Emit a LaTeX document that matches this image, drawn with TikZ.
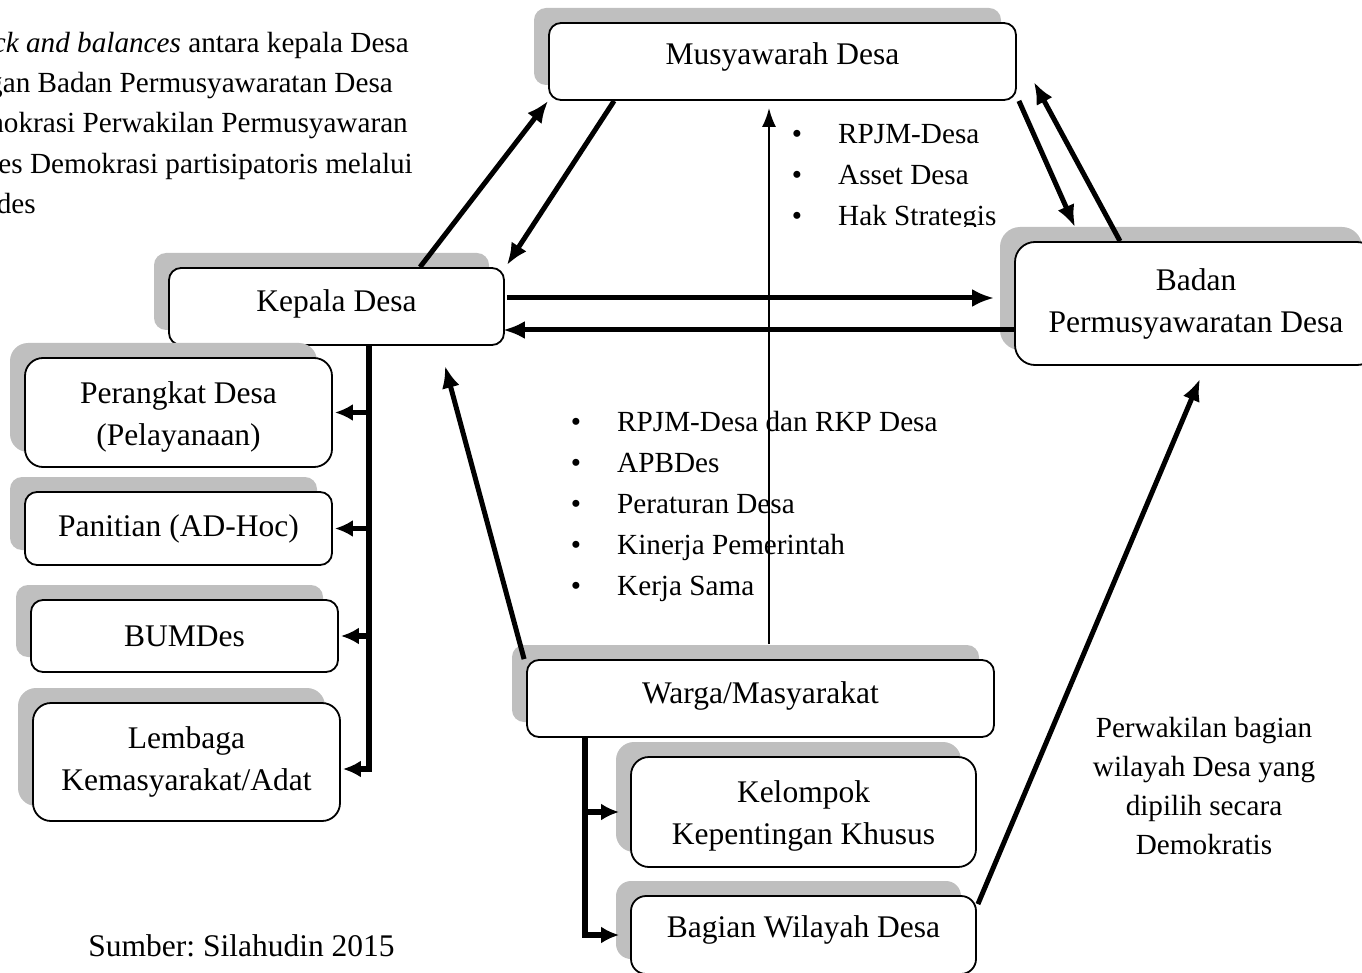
\documentclass[tikz,border=0pt]{standalone}
\usepackage{fontspec}
\setmainfont{Liberation Serif}
\usepackage{xcolor}
\usepackage{tikz}
\usetikzlibrary{arrows.meta, calc, shadows}

\definecolor{shadowgray}{RGB}{191,191,191}
\frenchspacing

\begin{document}
\begin{tikzpicture}[
      x=1pt, y=-1pt,
      font=\fontsize{31.5}{42}\selectfont,
      box/.style={
        rectangle,
        draw,
        line width=1.8pt,
        rounded corners=12pt,
        fill=white,
        align=center,
        inner sep=4pt,
        drop shadow={shadow xshift=-15pt, shadow yshift=15pt,
          fill=shadowgray, opacity=1}
      },
      link/.style={line width=5pt, -{Latex[length=22pt, width=18pt]}},
      branch/.style={line width=5.5pt, -{Latex[length=18pt, width=17pt]}},
      thinlink/.style={line width=2.2pt, -{Latex[length=19pt, width=14pt]}},
      small/.style={font=\fontsize{29.2}{40}\selectfont},
      item/.style={small, anchor=base west, inner sep=0pt},
      dot/.style={small, anchor=base, inner sep=0pt},
      note/.style={small, anchor=base east, inner sep=0pt}
    ]
    \useasboundingbox (0,0) rectangle (1362,973);

    % boxes
    \node[box, minimum width=467pt, minimum height=77pt, text depth=16pt] (mus) at (782.5,61.5) {Musyawarah Desa};
    \node[box, minimum width=335pt, minimum height=77pt, text depth=12pt] (kep) at (336.5,306.5) {Kepala Desa};
    \node[box, minimum width=362pt, minimum height=123pt, rounded corners=20pt] (bpd) at (1196,303.5) {Badan\\Permusyawaratan Desa};
    \node[box, minimum width=307pt, minimum height=109pt, rounded corners=18pt] (per) at (178.5,412.5) {\rule{0pt}{30pt}Perangkat Desa\\(Pelayanaan)};
    \node[box, minimum width=307pt, minimum height=73pt] (pan) at (178.5,528.5) {Panitian (AD-Hoc)};
    \node[box, minimum width=307pt, minimum height=72pt] (bum) at (184.5,636) {BUMDes};
    \node[box, minimum width=307pt, minimum height=118pt, rounded corners=18pt] (lem) at (186.5,762) {Lembaga\\Kemasyarakat/Adat};
    \node[box, minimum width=467pt, minimum height=77pt, text depth=12pt] (war) at (760.5,698.5) {Warga/Masyarakat};
    \node[box, minimum width=345pt, minimum height=110pt, rounded corners=18pt] (kel) at (803.5,812) {\rule{0pt}{29pt}Kelompok\\Kepentingan Khusus};
    \node[box, minimum width=345pt, minimum height=78pt, rounded corners=15pt, text depth=16pt] (bag) at (803.5,935) {Bagian Wilayah Desa};

    % texts
    \node[note] (cb1) at (409,53) {\textit{ck and balances} antara kepala Desa};
    \node[note] (cb2) at (393,93) {gan Badan Permusyawaratan Desa};
    \node[note] (cb3) at (408,133) {nokrasi Perwakilan Permusyawaran};
    \node[note] (cb4) at (413,174) {es Demokrasi partisipatoris melalui};
    \node[note] (cb5) at (36,214) {des};

    \begin{scope}
      \clip (780,100) rectangle (1010,227);
      \foreach \t [count=\i] in {RPJM-Desa, Asset Desa, Hak Strategis} {
        \node[item] (hak\i) at (838,{103+41*\i}) {\t};
        \node[dot] (hakdot\i) at (797,{103+41*\i}) {\textbullet};
      }
    \end{scope}

    \foreach \t [count=\i] in {RPJM-Desa dan RKP Desa, APBDes, Peraturan Desa, Kinerja Pemerintah, Kerja Sama} {
      \node[item] (rkp\i) at (617,{390+41*\i}) {\t};
      \node[dot] (rkpdot\i) at (576,{390+41*\i}) {\textbullet};
    }

    \node[align=center, font=\fontsize{29.2}{39}\selectfont] (wakil) at (1204,786) {Perwakilan bagian\\wilayah Desa yang\\dipilih secara\\Demokratis};
    \node[anchor=base] (src) at (241.5,956) {Sumber: Silahudin 2015};

    % connectors
    \draw[link] ($(kep.north)+(83.5,0)$) -- (mus.south west);
    \draw[link] ($(mus.south west)+(66,0)$) -- ($(kep.north east)+(2,-2)$);
    \draw[link] ($(kep.east)+(2,-8.5)$) -- ($(bpd.west)+(-20,-5.5)$);
    \draw[link] ($(bpd.west)+(0,26.5)$) -- ($(kep.east)+(-2,23.5)$);
    \draw[link] ($(mus.south east)+(2,0)$) -- ($(bpd.north)+(-121,-14)$);
    \draw[link] ($(bpd.north)+(-76,0)$) -- ($(mus.east)+(17,20.5)$);
    \draw[thinlink] ($(war.north)+(8.5,-15)$) -- ($(mus.south)+(-13.5,7)$);
    \draw[link] ($(war.north west)+(-2,0)$) -- ($(kep.south)+(108.5,20)$);
    \draw[link] ($(bag.north east)+(1,9)$) -- ($(bpd.south)+(4,13)$);

    \coordinate (ktop) at ($(kep.south)+(32.5,0)$);
    \draw[branch] (ktop) |- ($(lem.east)+(2,7)$);
    \foreach \b in {per, pan, bum}
      \draw[branch] (ktop |- \b.east) -- ($(\b.east)+(2,0)$);

    \coordinate (wtop) at ($(war.south west)+(59,0)$);
    \draw[branch] (wtop) |- ($(bag.west)+(-11,0)$);
    \draw[branch] (wtop |- kel.west) -- ($(kel.west)+(-11,0)$);
  \end{tikzpicture}
\end{document}
